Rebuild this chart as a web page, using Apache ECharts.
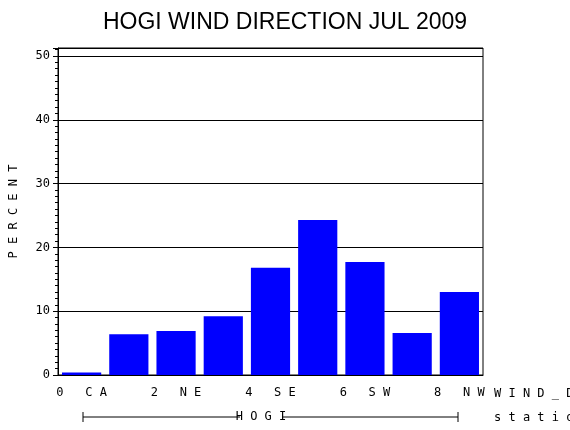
<!DOCTYPE html><html><head><meta charset="utf-8">
<script src="https://cdn.jsdelivr.net/npm/echarts@6/dist/echarts.min.js"></script>
<style>body{margin:0;background:#fff}#c{width:570px;height:430px}</style></head><body><div id="c"></div>
<script>
var categories=['0 CA','1 N','2 NE','3 E','4 SE','5 S','6 SW','7 W','8 NW'];
var percent=[0.4,6.4,6.9,9.2,16.8,24.3,17.7,6.6,13.0];
var yTicks=[0,10,20,30,40,50];
var ch=echarts.init(document.getElementById('c'));
var mono='DejaVu Sans Mono';
ch.setOption({
 animation:false,
 title:{text:'HOGI WIND DIRECTION JUL 2009',left:'center',top:6,textStyle:{fontFamily:'Liberation Sans',fontWeight:'normal',fontSize:23,color:'#000'}},
 grid:{left:58,right:87,top:48,bottom:55,show:true,borderColor:'#000',borderWidth:1},
 xAxis:{type:'category',data:categories,axisLine:{lineStyle:{color:'#000'}},axisTick:{show:false},
   axisLabel:{color:'#000',fontFamily:mono,fontSize:12,margin:12,formatter:function(v){return v.split('').join(' ');}}},
 yAxis:{type:'value',min:0,max:51.25,interval:10,name:'P E R C E N T',nameLocation:'middle',nameGap:38,
   nameTextStyle:{fontFamily:mono,fontSize:12,color:'#000'},
   axisLine:{show:true,lineStyle:{color:'#000'}},axisTick:{show:true,length:5,lineStyle:{color:'#000'}},
   minorTick:{show:true,splitNumber:10,length:3,lineStyle:{color:'#000'}},
   splitLine:{show:true,lineStyle:{color:'#000',width:1}},
   axisLabel:{color:'#000',fontFamily:mono,fontSize:12,margin:8,formatter:function(v){return yTicks.indexOf(v)>=0?String(v).split('').join(' ').replace(' ',''):'';}}},
 series:[{type:'bar',data:percent,barCategoryGap:'17%',itemStyle:{color:'#0000ff'}}],
 graphic:[
  {type:'text',left:494,top:388,style:{text:'W I N D _ D I R',font:'12px '+mono,fill:'#000'}},
  {type:'text',left:494,top:412,style:{text:'s t a t i o n',font:'12px '+mono,fill:'#000'}},
  {type:'line',shape:{x1:83,y1:417,x2:240,y2:417},style:{stroke:'#000'}},
  {type:'line',shape:{x1:282,y1:417,x2:458,y2:417},style:{stroke:'#000'}},
  {type:'line',shape:{x1:83,y1:412,x2:83,y2:422},style:{stroke:'#000'}},
  {type:'line',shape:{x1:458,y1:412,x2:458,y2:422},style:{stroke:'#000'}},
  {type:'text',x:261,y:411,style:{text:'H O G I',font:'12px '+mono,fill:'#000',align:'center'}}
 ]
});
</script></body></html>
